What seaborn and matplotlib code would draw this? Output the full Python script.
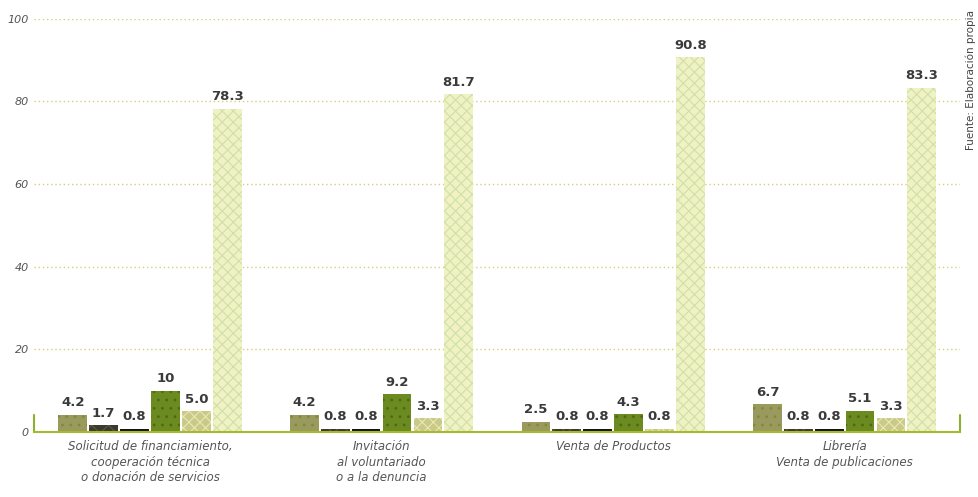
import matplotlib
matplotlib.use("Agg")
import matplotlib.pyplot as plt
import seaborn as sns
import pandas as pd

# ===============================
# Data
# ===============================
categorias = [
    "Solicitud de financiamiento,\ncooperación técnica\no donación de servicios",
    "Invitación\nal voluntariado\no a la denuncia",
    "Venta de Productos",
    "Librería\nVenta de publicaciones",
]
series = ["Serie 1", "Serie 2", "Serie 3", "Serie 4", "Serie 5", "Serie 6"]
valores = [
    [4.2, 1.7, 0.8, 10.0, 5.0, 78.3],
    [4.2, 0.8, 0.8, 9.2, 3.3, 81.7],
    [2.5, 0.8, 0.8, 4.3, 0.8, 90.8],
    [6.7, 0.8, 0.8, 5.1, 3.3, 83.3],
]
etiquetas = [
    ["4.2", "1.7", "0.8", "10", "5.0", "78.3"],
    ["4.2", "0.8", "0.8", "9.2", "3.3", "81.7"],
    ["2.5", "0.8", "0.8", "4.3", "0.8", "90.8"],
    ["6.7", "0.8", "0.8", "5.1", "3.3", "83.3"],
]
colores = ["#9b9a5e", "#3b3a2e", "#141410", "#6b8a20", "#c9c98a", "#f0f2c4"]
tramas = ["..", "xx", "", "..", "xxx", "xxx"]
trama_col = ["#7f8a3a", "#5a5a4a", "#000000", "#4e6a12", "#e8e8b0", "#cfe0a8"]

rows = []
for i, cat in enumerate(categorias):
    for j, s in enumerate(series):
        rows.append({"categoria": cat, "serie": s, "valor": valores[i][j]})
df = pd.DataFrame(rows)

# ===============================
# Plot
# ===============================
sns.set_style("white")
plt.rcParams["font.family"] = ["DejaVu Sans"]
plt.rcParams["hatch.linewidth"] = 0.8

fig = plt.figure(figsize=(9.79, 4.97), dpi=100)
ax = fig.add_axes([0.035, 0.131, 0.946, 0.831])

sns.barplot(data=df, x="categoria", y="valor", hue="serie", order=categorias,
            hue_order=series, palette=colores, width=0.8, gap=0.07,
            saturation=1, legend=False, ax=ax, linewidth=0)

for j, cont in enumerate(ax.containers):
    for i, bar in enumerate(cont):
        bar.set_hatch(tramas[j])
        bar.set_edgecolor(trama_col[j])
        bar.set_linewidth(0)
        ax.text(bar.get_x() + bar.get_width() / 2, bar.get_height() + 1.3,
                etiquetas[i][j], ha="center", va="bottom", fontsize=9.5,
                fontweight="bold", color="#3a3a3a")

ax.set_xlim(-0.5, 3.5)
ax.set_ylim(0, 100)
ax.set_yticks([0, 20, 40, 60, 80, 100])
ax.set_yticklabels(["0", "20", "40", "60", "80", "100"], fontstyle="italic",
                   color="#555555", fontsize=8)
ax.yaxis.grid(True, linestyle=(0, (1, 2)), color="#d6d070", linewidth=1)
ax.set_axisbelow(True)
ax.tick_params(axis="y", length=0, pad=4)

ax.set_xticks(range(len(categorias)))
ax.set_xticklabels(categorias, fontstyle="italic", color="#555555", fontsize=8.5,
                   linespacing=1.25)
ax.tick_params(axis="x", length=0, pad=6)
ax.set_xticks([0.5, 1.5, 2.5], minor=True)
ax.tick_params(axis="x", which="minor", direction="in", length=4,
               color="#e0d870", width=1)

ax.set_xlabel("")
ax.set_ylabel("")
for side in ["top", "right", "left"]:
    ax.spines[side].set_visible(False)
ax.spines["bottom"].set_color("#a8b830")
ax.spines["bottom"].set_linestyle((0, (2, 1)))
ax.spines["bottom"].set_linewidth(1.5)
ax.plot([-0.5, -0.5], [0, 4], color="#8cb030", lw=1.5, clip_on=False)
ax.plot([3.5, 3.5], [0, 4], color="#8cb030", lw=1.5, clip_on=False)

fig.text(0.992, 0.98, "Fuente: Elaboración propia", rotation=90, ha="center",
         va="top", fontsize=7.5, color="#444444")

fig.savefig("out.png", dpi=100)
